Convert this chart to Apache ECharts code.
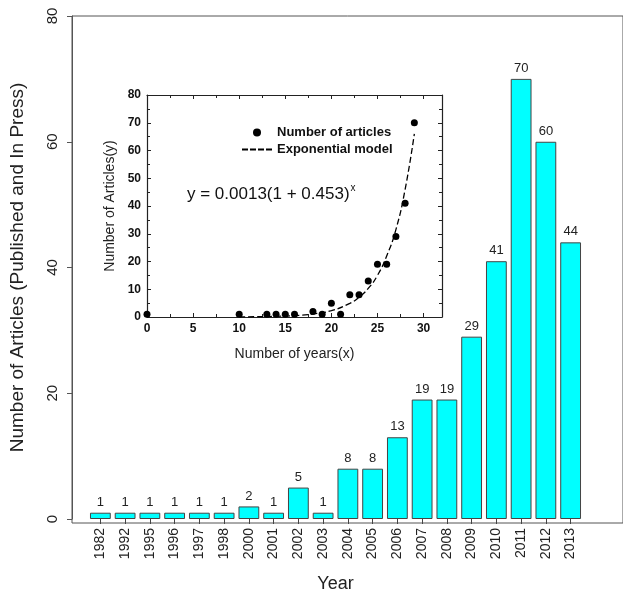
<!DOCTYPE html>
<html>
<head>
<meta charset="utf-8">
<script src="https://cdn.jsdelivr.net/npm/echarts@6/dist/echarts.min.js"></script>
<style>
  html, body { margin: 0; padding: 0; background: #fff; }
  #chart { width: 623px; height: 598px; }
</style>
</head>
<body>
<div id="chart"></div>
<script>
// main bar chart
var years = ['1982', '1992', '1995', '1996', '1997', '1998', '2000', '2001', '2002', '2003',
             '2004', '2005', '2006', '2007', '2008', '2009', '2010', '2011', '2012', '2013'];
var articles = [1, 1, 1, 1, 1, 1, 2, 1, 5, 1, 8, 8, 13, 19, 19, 29, 41, 70, 60, 44];

// inset: years since 1982 vs number of articles
var insetYears = [0, 10, 13, 14, 15, 16, 18, 19, 20, 21, 22, 23, 24, 25, 26, 27, 28, 29];
var insetArticles = [1, 1, 1, 1, 1, 1, 2, 1, 5, 1, 8, 8, 13, 19, 19, 29, 41, 70];

// dashed model curve
var modelX = [10, 12, 14, 16, 18, 20, 22, 23, 24, 25, 26, 27, 28, 29];
var modelY = [0.05, 0.12, 0.24, 0.5, 1.1, 2.3, 4.9, 7.1, 10.3, 15, 22, 31.5, 46, 66];

var font = 'Liberation Sans, Arial, sans-serif';

var scatterData = [];
for (var i = 0; i < insetYears.length; i++) {
    scatterData.push([insetYears[i], insetArticles[i]]);
}
var modelData = [];
for (var j = 0; j < modelX.length; j++) {
    modelData.push([modelX[j], modelY[j]]);
}

var myChart = echarts.init(document.getElementById('chart'));

var insetAxisBase = {
    gridIndex: 2,
    type: 'value',
    axisLine: { show: true, onZero: false, lineStyle: { color: '#222', width: 1.2 } },
    axisTick: { show: true, inside: true, length: 4, lineStyle: { color: '#222' } },
    minorTick: { show: true, splitNumber: 2, length: 3, lineStyle: { color: '#222' } },
    splitLine: { show: false }
};

// dashed line icon for the legend
var dashIcon = 'path://M0,0h6v2h-6z M8,0h6v2h-6z M16,0h6v2h-6z M24,0h6v2h-6z';

option = {
    backgroundColor: '#fff',
    animation: false,
    textStyle: { fontFamily: font },
    grid: [
        { left: 88, right: 40, top: 16, bottom: 75 },
        { left: 72, right: -5, top: 16, bottom: 75, show: true, borderColor: '#555', borderWidth: 1, backgroundColor: 'transparent' },
        { left: 147, right: 181, top: 95, bottom: 281, show: true, backgroundColor: '#fff', borderWidth: 0 }
    ],
    legend: {
        left: 237,
        top: 121,
        orient: 'vertical',
        itemGap: 4,
        itemWidth: 30,
        itemHeight: 8,
        textStyle: { fontFamily: font, fontSize: 13, fontWeight: 'bold', color: '#111' },
        data: [
            { name: 'Number of articles', icon: 'circle' },
            { name: 'Exponential model', icon: dashIcon }
        ]
    },
    graphic: [{
        type: 'text',
        left: 187,
        top: 183,
        style: {
            text: '{a|y = 0.0013(1 + 0.453)}{s|x}',
            rich: {
                a: { fontFamily: font, fontSize: 17, fill: '#111' },
                s: { fontFamily: font, fontSize: 10, fill: '#111', verticalAlign: 'top', padding: [0, 0, 12, 1] }
            }
        }
    }],
    xAxis: [
        {
            gridIndex: 0,
            type: 'category',
            data: years,
            boundaryGap: true,
            axisLine: { show: false },
            axisTick: { show: true, alignWithLabel: true, length: 5, lineStyle: { color: '#444' } },
            axisLabel: { rotate: 90, fontSize: 14, color: '#222', margin: 9, fontFamily: font },
            name: 'Year',
            nameLocation: 'middle',
            nameGap: 56,
            nameTextStyle: { fontSize: 18, color: '#222', fontFamily: font }
        },
        { gridIndex: 1, type: 'value', show: false },
        Object.assign({}, insetAxisBase, {
            min: 0, max: 32, interval: 5,
            axisLabel: { fontSize: 12, fontWeight: 'bold', color: '#111', margin: 6, fontFamily: font, showMaxLabel: false },
            name: 'Number of years(x)',
            nameLocation: 'middle',
            nameGap: 30,
            nameTextStyle: { fontSize: 14, color: '#222', fontFamily: font }
        }),
        Object.assign({}, insetAxisBase, {
            position: 'top',
            min: 0, max: 32, interval: 5,
            axisLabel: { show: false }
        })
    ],
    yAxis: [
        {
            gridIndex: 0,
            type: 'value',
            min: 0, max: 80, interval: 20,
            offset: 16,
            axisLine: { show: true, lineStyle: { color: '#555' } },
            axisTick: { show: true, length: 5, lineStyle: { color: '#555' } },
            splitLine: { show: false },
            axisLabel: { rotate: 90, fontSize: 15, color: '#222', margin: 12, fontFamily: font },
            name: 'Number of Articles (Published and In Press)',
            nameLocation: 'middle',
            nameGap: 45,
            nameTextStyle: { fontSize: 19, color: '#222', fontFamily: font }
        },
        { gridIndex: 1, type: 'value', show: false },
        Object.assign({}, insetAxisBase, {
            min: 0, max: 80, interval: 10,
            axisLabel: { fontSize: 12, fontWeight: 'bold', color: '#111', margin: 6, fontFamily: font },
            name: 'Number of Articles(y)',
            nameLocation: 'middle',
            nameGap: 30,
            nameTextStyle: { fontSize: 14, color: '#222', fontFamily: font }
        }),
        Object.assign({}, insetAxisBase, {
            position: 'right',
            min: 0, max: 80, interval: 10,
            axisLabel: { show: false }
        })
    ],
    series: [
        {
            type: 'bar',
            xAxisIndex: 0,
            yAxisIndex: 0,
            data: articles,
            barWidth: '84%',
            itemStyle: { color: '#00FFFF', borderColor: '#444', borderWidth: 1 },
            label: { show: true, position: 'top', fontSize: 13, color: '#222', distance: 4, fontFamily: font }
        },
        {
            name: 'Number of articles',
            type: 'scatter',
            xAxisIndex: 2,
            yAxisIndex: 2,
            data: scatterData,
            symbolSize: 7,
            itemStyle: { color: '#000', opacity: 1 },
            z: 5
        },
        {
            name: 'Exponential model',
            type: 'line',
            xAxisIndex: 2,
            yAxisIndex: 2,
            data: modelData,
            smooth: true,
            showSymbol: false,
            symbol: 'none',
            lineStyle: { color: '#000', width: 1.3, type: [6, 3] },
            itemStyle: { color: '#000' },
            z: 4
        }
    ]
};

myChart.setOption(option);
</script>
</body>
</html>
